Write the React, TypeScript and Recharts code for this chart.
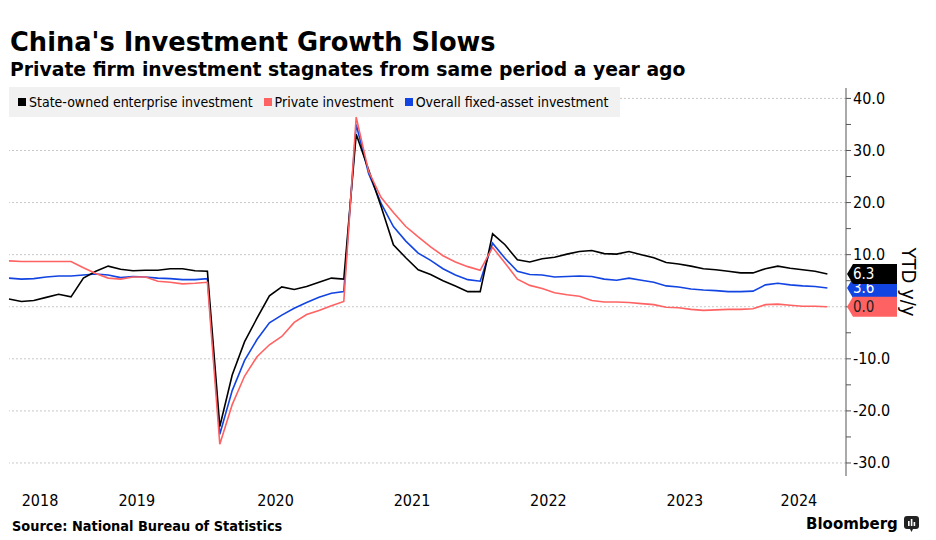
import { Line, LineChart, ReferenceLine, XAxis, YAxis } from "recharts"

// monthly YTD y/y, Jan is folded into Feb by NBS
const periods = [
  "2018-07", "2018-08", "2018-09", "2018-10", "2018-11", "2018-12",
  "2019-02", "2019-03", "2019-04", "2019-05", "2019-06", "2019-07", "2019-08", "2019-09", "2019-10", "2019-11", "2019-12",
  "2020-02", "2020-03", "2020-04", "2020-05", "2020-06", "2020-07", "2020-08", "2020-09", "2020-10", "2020-11", "2020-12",
  "2021-02", "2021-03", "2021-04", "2021-05", "2021-06", "2021-07", "2021-08", "2021-09", "2021-10", "2021-11", "2021-12",
  "2022-02", "2022-03", "2022-04", "2022-05", "2022-06", "2022-07", "2022-08", "2022-09", "2022-10", "2022-11", "2022-12",
  "2023-02", "2023-03", "2023-04", "2023-05", "2023-06", "2023-07", "2023-08", "2023-09", "2023-10", "2023-11", "2023-12",
  "2024-02", "2024-03", "2024-04", "2024-05", "2024-06", "2024-07",
]

const soeInvestment = [
  1.5, 1.0, 1.2, 1.8, 2.4, 1.9,
  5.5, 6.8, 7.8, 7.2, 6.9, 7.0, 7.0, 7.3, 7.3, 6.9, 6.8,
  -23.0, -13.1, -6.7, -2.2, 2.1, 3.8, 3.3, 3.9, 4.7, 5.5, 5.3,
  33.1, 26.3, 19.3, 11.9, 9.4, 7.1, 6.2, 5.0, 4.0, 2.9, 2.9,
  14.0, 11.9, 9.0, 8.6, 9.2, 9.5, 10.1, 10.6, 10.8, 10.2, 10.1,
  10.6, 10.0, 9.4, 8.5, 8.2, 7.8, 7.3, 7.1, 6.8, 6.5, 6.5,
  7.3, 7.8, 7.4, 7.1, 6.8, 6.3,
]

const privateInvestment = [
  8.8, 8.7, 8.7, 8.7, 8.7, 8.7,
  7.5, 6.4, 5.5, 5.3, 5.7, 5.7, 4.9, 4.7, 4.4, 4.5, 4.7,
  -26.4, -18.8, -13.3, -9.6, -7.3, -5.7, -3.0, -1.5, -0.7, 0.2, 1.0,
  36.4, 26.0, 21.0, 18.1, 15.4, 13.4, 11.5, 9.8, 8.6, 7.7, 7.0,
  11.4, 8.4, 5.3, 4.1, 3.5, 2.7, 2.3, 2.0, 1.2, 0.9, 0.9,
  0.8, 0.6, 0.4, -0.1, -0.2, -0.5, -0.7, -0.6, -0.5, -0.5, -0.4,
  0.4, 0.5, 0.3, 0.1, 0.1, 0.0,
]

const overallInvestment = [
  5.5, 5.3, 5.4, 5.7, 5.9, 5.9,
  6.1, 6.3, 6.1, 5.6, 5.8, 5.7, 5.5, 5.4, 5.2, 5.2, 5.4,
  -24.5, -16.1, -10.3, -6.3, -3.1, -1.6, -0.3, 0.8, 1.8, 2.6, 2.9,
  35.0, 25.6, 19.9, 15.4, 12.6, 10.3, 8.9, 7.3, 6.1, 5.2, 4.9,
  12.2, 9.3, 6.8, 6.2, 6.1, 5.7, 5.8, 5.9, 5.8, 5.3, 5.1,
  5.5, 5.1, 4.7, 4.0, 3.8, 3.4, 3.2, 3.1, 2.9, 2.9, 3.0,
  4.2, 4.5, 4.2, 4.0, 3.9, 3.6,
]

const yearLabels = ["2018", "2019", "2020", "2021", "2022", "2023", "2024"]
// position of each year label along the point index
const yearTickIndex = [2.5, 10.3, 21.5, 32.5, 43.5, 54.5, 63.7]

const yTicks = [-30, -25, -20, -15, -10, -5, 0, 5, 10, 15, 20, 25, 30, 35, 40]
const gridValues = [-30, -20, -10, 0, 10, 20, 30, 40]

const data = periods.map((period, i) => ({
  i,
  period,
  soe: soeInvestment[i],
  priv: privateInvestment[i],
  overall: overallInvestment[i],
}))

const BLACK = "#000000"
const RED = "#ff6262"
const BLUE = "#1244e2"

const COND = '"DejaVu Sans Condensed", "DejaVu Sans", sans-serif'
const BOLD = '"DejaVu Sans", Verdana, sans-serif'

const TAG_X = 847

function endTag(fill: string, textColor: string) {
  return (props: any) => {
    if (props.index !== data.length - 1) return null
    const y = props.viewBox?.y ?? props.y
    const h = 20
    const top = y - h / 2
    return (
      <g>
        <polygon
          points={`${TAG_X},${y} ${TAG_X + 6},${top} ${TAG_X + 50},${top} ${TAG_X + 50},${top + h} ${TAG_X + 6},${top + h}`}
          fill={fill}
        />
        <text x={TAG_X + 6} y={y} dy={5} fill={textColor} fontSize={15} fontFamily={COND}>
          {Number(props.value).toFixed(1)}
        </text>
      </g>
    )
  }
}

function YearTick({ x, y, payload, index }: any) {
  return (
    <text x={x} y={y + 22} textAnchor="middle" fontSize={16} fontFamily={COND} fill="#000">
      {yearLabels[index] ?? payload.value}
    </text>
  )
}

function ValueTick({ x, y, payload }: any) {
  if (payload.value % 10 !== 0) return null
  return (
    <text x={x} y={y} dy={5.5} textAnchor="start" fontSize={16} fontFamily={COND} fill="#000">
      {payload.value.toFixed(1)}
    </text>
  )
}

function LegendSwatch({ color, label }: { color: string; label: string }) {
  return (
    <div style={{ display: "flex", alignItems: "center", marginRight: 11 }}>
      <span style={{ width: 8, height: 8, background: color, marginRight: 3 }} />
      <span>{label}</span>
    </div>
  )
}

function BloombergMark() {
  return (
    <svg width={15} height={16} viewBox="0 0 15 16">
      <rect x={0} y={0} width={15} height={13} rx={3} fill="#222" />
      <polygon points="6,13 9,13 7.5,16" fill="#222" />
      <rect x={4} y={5} width={1.6} height={5} fill="#fff" />
      <rect x={6.8} y={3} width={1.6} height={7} fill="#fff" />
      <rect x={9.6} y={6} width={1.6} height={4} fill="#fff" />
    </svg>
  )
}

export default function App() {
  return (
    <div style={{ position: "relative", width: 936, height: 540, margin: -8, background: "#fff", overflow: "hidden" }}>
      <div style={{ position: "absolute", left: 0, top: 0 }}>
        <LineChart width={936} height={540} data={data} margin={{ top: 88, right: 0, bottom: 24, left: 9 }}>
          {gridValues.map((v) => (
            <ReferenceLine key={v} y={v} stroke="#c8c8c8" strokeDasharray="2 2" />
          ))}
          <XAxis
            dataKey="i"
            type="number"
            domain={[0, 67.5]}
            ticks={yearTickIndex}
            interval={0}
            axisLine={false}
            tickLine={false}
            height={40}
            tick={<YearTick />}
          />
          <YAxis
            orientation="right"
            domain={[-32.5, 42]}
            ticks={yTicks}
            interval={0}
            width={90}
            axisLine={{ stroke: "#555" }}
            tickLine={{ stroke: "#555" }}
            tickSize={5}
            tickMargin={2}
            tick={<ValueTick />}
          />
          <Line dataKey="overall" stroke={BLUE} strokeWidth={1.6} dot={false} isAnimationActive={false} label={endTag(BLUE, "#fff")} />
          <Line dataKey="soe" stroke={BLACK} strokeWidth={1.6} dot={false} isAnimationActive={false} label={endTag(BLACK, "#fff")} />
          <Line dataKey="priv" stroke={RED} strokeWidth={1.6} dot={false} isAnimationActive={false} label={endTag(RED, "#222")} />
        </LineChart>
      </div>

      <div style={{ position: "absolute", left: 10, top: 30, fontFamily: BOLD, fontWeight: 700, fontSize: 25.7, lineHeight: "25.7px", whiteSpace: "nowrap" }}>
        China's Investment Growth Slows
      </div>
      <div style={{ position: "absolute", left: 10, top: 61, fontFamily: BOLD, fontWeight: 700, fontSize: 18.8, lineHeight: "18.8px", whiteSpace: "nowrap" }}>
        Private firm investment stagnates from same period a year ago
      </div>

      <div
        style={{
          position: "absolute", left: 9, top: 87, width: 611, height: 30, background: "#f1f1f1",
          display: "flex", alignItems: "center", paddingLeft: 9, boxSizing: "border-box",
          fontFamily: COND, fontSize: 14, whiteSpace: "nowrap",
        }}
      >
        <LegendSwatch color={BLACK} label="State-owned enterprise investment" />
        <LegendSwatch color={RED} label="Private investment" />
        <LegendSwatch color={BLUE} label="Overall fixed-asset investment" />
      </div>

      <div
        style={{
          position: "absolute", left: 909, top: 282, transform: "translate(-50%, -50%) rotate(90deg)",
          fontFamily: COND, fontSize: 20, whiteSpace: "nowrap",
        }}
      >
        YTD y/y
      </div>

      <div style={{ position: "absolute", left: 12, top: 519, fontFamily: COND, fontWeight: 700, fontSize: 14.4, lineHeight: "14.4px", whiteSpace: "nowrap" }}>
        Source: National Bureau of Statistics
      </div>
      <div style={{ position: "absolute", left: 806, top: 516, display: "flex", alignItems: "center", gap: 6 }}>
        <span style={{ fontFamily: BOLD, fontWeight: 700, fontSize: 15, lineHeight: "16px" }}>Bloomberg</span>
        <BloombergMark />
      </div>
    </div>
  )
}
